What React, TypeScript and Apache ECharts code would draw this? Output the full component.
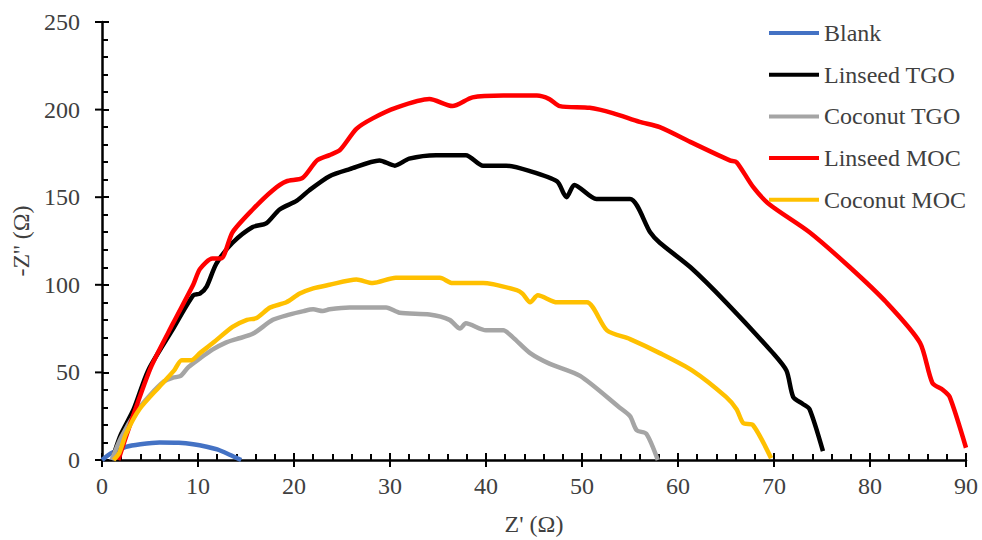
import React, { useEffect, useRef } from "react";
import * as echarts from "echarts";

const seriesNames = ["Blank", "Linseed TGO", "Coconut TGO", "Linseed MOC", "Coconut MOC"];
const seriesColors = ["#4472C4", "#000000", "#A5A5A5", "#FF0000", "#FFC000"];

const blank: number[][] = [
  [0, 0], [1, 4], [2.5, 7.5], [4, 9], [6, 10], [8, 9.8], [9.5, 9], [10.9, 7.6], [12, 6], [13.3, 3], [14.5, 0],
];

const linseedTGO: number[][] = [
  [1.1, 0], [1.4, 6], [2, 15], [3.3, 29], [4.8, 51], [7.3, 74], [9.5, 94], [10.2, 95], [10.9, 99], [11.9, 112],
  [13.6, 124], [15.7, 133], [17.1, 135], [18.5, 143], [20.3, 148], [21.6, 154], [23.7, 162], [25.8, 166],
  [28.9, 171], [30.5, 168], [32, 172], [34.8, 174], [37.9, 174], [39.7, 168], [42.1, 168], [44.5, 165],
  [47.4, 159], [48.1, 152], [48.4, 150], [49.2, 157], [51.5, 149], [55, 149], [57.1, 130], [58.1, 124],
  [61.3, 110], [65, 90], [69.9, 61], [71.3, 51], [72, 36], [73, 32], [73.7, 29], [75.1, 5],
];

const coconutTGO: number[][] = [
  [1, 0], [2, 13], [3.5, 27], [5, 37], [6.5, 45], [7.4, 47], [8.2, 48], [9, 53], [10.2, 58], [11.5, 63],
  [12.9, 67], [14, 69], [15.7, 72], [17.8, 80], [19.5, 83], [21, 85], [22, 86], [23, 85], [23.7, 86],
  [25.8, 87], [29.6, 87], [31, 84], [34.1, 83], [36.2, 80], [37.3, 75], [37.9, 78], [40, 74], [41.8, 74],
  [42.8, 70], [44.6, 61], [46.6, 55], [49.8, 48], [53.9, 30], [55, 25], [55.7, 17], [56.7, 15], [57.9, 0],
];

const linseedMOC: number[][] = [
  [1.7, 0], [3.1, 23], [5.1, 53], [7.4, 78], [9.5, 100], [10.2, 109], [11.5, 115], [12.4, 115], [13.6, 130],
  [15.7, 143], [17.8, 154], [19.2, 159], [20.9, 161], [22.4, 171], [23.7, 174], [24.8, 177], [26.5, 189],
  [28.2, 195], [30.6, 201], [34.1, 206], [36.5, 202], [38.6, 207], [41.8, 208], [45.3, 208], [46.6, 206],
  [47.7, 202], [50.8, 201], [53.2, 198], [56, 193], [58.1, 190], [61.5, 181], [65.4, 171], [66.1, 170],
  [67.8, 156], [69.5, 146], [73.7, 130], [77.9, 110], [81.7, 90], [85.2, 67], [86.5, 44], [87.6, 40],
  [88.3, 36], [90, 7],
];

const coconutMOC: number[][] = [
  [1.2, 0], [1.8, 4], [2.5, 15], [3.9, 29], [6, 42], [7.5, 51], [8.3, 57], [9.3, 57], [10.2, 61], [11.6, 67],
  [13.6, 76], [15.1, 80], [16.1, 81], [17.5, 87], [19.2, 90], [20.6, 95], [22, 98], [23.7, 100], [26.5, 103],
  [28.2, 101], [30.6, 104], [35.2, 104], [36.5, 101], [39.7, 101], [43.2, 97], [43.8, 95], [44.6, 90],
  [45.4, 94], [47.4, 90], [50.5, 90], [52.6, 74], [55, 69], [58.1, 61], [61.5, 51], [65, 36], [66.1, 29],
  [66.8, 21], [67.8, 20], [69.7, 1],
];

const allData = [blank, linseedTGO, coconutTGO, linseedMOC, coconutMOC];

const xTicks = { min: 0, max: 90, interval: 10 };
const yTicks = { min: 0, max: 250, interval: 50 };

const FONT = "'Liberation Serif', 'Times New Roman', serif";
const TEXT_COLOR = "#404040";
const OUT_TICK = 7;

function tickValues(t: { min: number; max: number; interval: number }) {
  const out: number[] = [];
  for (let v = t.min; v <= t.max + 1e-9; v += t.interval) out.push(v);
  return out;
}

export default function App() {
  const ref = useRef<HTMLDivElement>(null);
  useEffect(() => {
    if (!ref.current) return;
    const chart = echarts.init(ref.current, undefined, { renderer: "svg" });
    const axisLineStyle = { color: "#000", width: 2.5 };
    const tickStyle = { color: "#000", width: 2 };
    const option: any = {
      animation: false,
      backgroundColor: "#fff",
      grid: { left: 102, right: 16, top: 22, bottom: 80, containLabel: false, outerBoundsMode: "none" },
      legend: {
        orient: "vertical",
        left: 769,
        top: 21,
        padding: 0,
        itemWidth: 50,
        itemHeight: 4,
        itemGap: 17.7,
        icon: "rect",
        data: seriesNames,
        textStyle: { fontFamily: FONT, fontSize: 24, lineHeight: 24, color: TEXT_COLOR },
      },
      xAxis: {
        type: "value",
        ...xTicks,
        position: "bottom",
        name: "Z' (Ω)",
        nameLocation: "middle",
        nameGap: 52,
        nameTextStyle: { fontFamily: FONT, fontSize: 24, color: TEXT_COLOR },
        axisLine: { show: true, onZero: false, lineStyle: axisLineStyle },
        axisTick: { show: true, inside: true, length: 7, lineStyle: tickStyle },
        minorTick: { show: true, splitNumber: 5, length: 6, lineStyle: tickStyle },
        axisLabel: { fontFamily: FONT, fontSize: 24, color: TEXT_COLOR, margin: 14 },
        splitLine: { show: false },
      },
      yAxis: {
        type: "value",
        ...yTicks,
        position: "left",
        name: "-Z'' (Ω)",
        nameLocation: "middle",
        nameGap: 57,
        nameTextStyle: { fontFamily: FONT, fontSize: 24, color: TEXT_COLOR },
        axisLine: { show: true, onZero: false, lineStyle: axisLineStyle },
        axisTick: { show: true, inside: true, length: 7, lineStyle: tickStyle },
        minorTick: { show: true, splitNumber: 5, length: 6, lineStyle: tickStyle },
        axisLabel: { fontFamily: FONT, fontSize: 24, color: TEXT_COLOR, margin: 22 },
        splitLine: { show: false },
      },
      series: seriesNames.map((name, i) => ({
        name,
        type: "line",
        data: allData[i],
        showSymbol: false,
        symbol: "none",
        smooth: 0.25,
        color: seriesColors[i],
        lineStyle: { color: seriesColors[i], width: 4.5 },
        z: 2,
      })),
    };
    chart.setOption(option);

    // outward half of the major ticks (the reference's major ticks cross the axis line)
    const x0 = chart.convertToPixel({ xAxisIndex: 0 }, xTicks.min) as number;
    const y0 = chart.convertToPixel({ yAxisIndex: 0 }, yTicks.min) as number;
    const outTicks: any[] = [];
    tickValues(xTicks).forEach((v) => {
      const px = chart.convertToPixel({ xAxisIndex: 0 }, v) as number;
      outTicks.push({
        type: "line",
        shape: { x1: px, y1: y0, x2: px, y2: y0 + OUT_TICK },
        style: { stroke: "#000", lineWidth: 2 },
        silent: true,
      });
    });
    tickValues(yTicks).forEach((v) => {
      const py = chart.convertToPixel({ yAxisIndex: 0 }, v) as number;
      outTicks.push({
        type: "line",
        shape: { x1: x0, y1: py, x2: x0 - OUT_TICK, y2: py },
        style: { stroke: "#000", lineWidth: 2 },
        silent: true,
      });
    });
    chart.setOption({ graphic: outTicks });

    return () => chart.dispose();
  }, []);
  return (
    <div
      ref={ref}
      style={{ position: "fixed", left: 0, top: 0, width: 982, height: 540, background: "#fff" }}
    />
  );
}
